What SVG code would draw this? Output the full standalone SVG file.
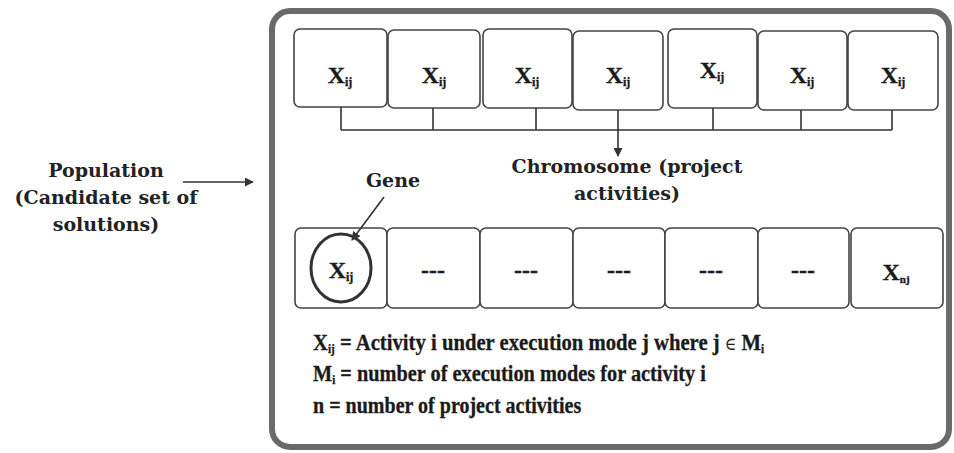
<svg xmlns="http://www.w3.org/2000/svg" width="954" height="453" viewBox="0 0 954 453">
<style>
.bg{fill:#fff}
.frame{fill:none;stroke:#6a6a6a;stroke-width:6}
.box{fill:#fff;stroke:#444;stroke-width:1.6}
.ln{fill:none;stroke:#333;stroke-width:1.6}
.x{font-family:"Liberation Serif","Times New Roman",serif;font-weight:bold;font-size:24px;fill:#1a1a1a;stroke:#1a1a1a;stroke-width:0.3;text-anchor:middle}
.lbl{font-family:"DejaVu Serif",serif;font-weight:bold;font-size:19px;fill:#222;text-anchor:middle}
.leg{font-family:"Liberation Serif","Times New Roman",serif;font-weight:bold;font-size:24px;fill:#1a1a1a;stroke:#1a1a1a;stroke-width:0.3}
</style>
<defs>
<marker id="ah" viewBox="0 0 10 10" refX="9" refY="5" markerWidth="9" markerHeight="9" markerUnits="userSpaceOnUse" orient="auto">
<path d="M0,0 L10,5 L0,10 Z" fill="#333"/>
</marker>
</defs>
<rect class="bg" x="0" y="0" width="954" height="453"/>
<rect id="frame" class="frame" x="272" y="11" width="677" height="436" rx="18"/>

<g id="population">
<text class="lbl" x="106" y="177">Population</text>
<text class="lbl" x="106" y="204">(Candidate set of</text>
<text class="lbl" x="106" y="231">solutions)</text>
</g>

<g id="chromosome-row">
<g id="c1"><rect class="box" x="294" y="29" width="93" height="78" rx="6"/><text class="x" x="340" y="83">X<tspan font-size="12" dy="3">ij</tspan></text></g>
<g id="c2"><rect class="box" x="388" y="30" width="92" height="78" rx="6"/><text class="x" x="434" y="83">X<tspan font-size="12" dy="3">ij</tspan></text></g>
<g id="c3"><rect class="box" x="483" y="29" width="89" height="79" rx="6"/><text class="x" x="527" y="83">X<tspan font-size="12" dy="3">ij</tspan></text></g>
<g id="c4"><rect class="box" x="573" y="31" width="90" height="79" rx="6"/><text class="x" x="618" y="83">X<tspan font-size="12" dy="3">ij</tspan></text></g>
<g id="c5"><rect class="box" x="668" y="29" width="89" height="79" rx="6"/><text class="x" x="712" y="78">X<tspan font-size="12" dy="3">ij</tspan></text></g>
<g id="c6"><rect class="box" x="758" y="31" width="89" height="79" rx="6"/><text class="x" x="802" y="83">X<tspan font-size="12" dy="3">ij</tspan></text></g>
<g id="c7"><rect class="box" x="848" y="31" width="90" height="79" rx="6"/><text class="x" x="893" y="83">X<tspan font-size="12" dy="3">ij</tspan></text></g>
</g>

<g id="chromosome-label">
<text class="lbl" x="627" y="173">Chromosome (project</text>
<text class="lbl" x="627" y="200">activities)</text>
</g>

<g id="gene-label">
<text class="lbl" x="393" y="187">Gene</text>
</g>

<g id="gene-row">
<g id="g1"><rect class="box" x="295" y="228" width="92" height="80" rx="6"/><ellipse cx="341" cy="268" rx="30" ry="34" fill="none" stroke="#333" stroke-width="3"/><text class="x" x="341" y="278">X<tspan font-size="12" dy="3">ij</tspan></text></g>
<g id="g2"><rect class="box" x="387" y="228" width="93" height="80" rx="6"/><text class="x" x="433" y="278">---</text></g>
<g id="g3"><rect class="box" x="480" y="228" width="93" height="80" rx="6"/><text class="x" x="526" y="278">---</text></g>
<g id="g4"><rect class="box" x="573" y="228" width="92" height="80" rx="6"/><text class="x" x="619" y="278">---</text></g>
<g id="g5"><rect class="box" x="665" y="228" width="93" height="80" rx="6"/><text class="x" x="711" y="278">---</text></g>
<g id="g6"><rect class="box" x="758" y="228" width="91" height="80" rx="6"/><text class="x" x="803" y="278">---</text></g>
<g id="g7"><rect class="box" x="851" y="228" width="92" height="80" rx="6"/><text class="x" x="896" y="280" font-size="20">X<tspan font-size="11" dy="3">nj</tspan></text></g>
</g>

<g id="connectors">
<path class="ln" d="M341,107 V130 M433,108 V130 M536,108 V130 M713,108 V130 M801,110 V130 M892,110 V130 M341,130 H892"/>
<line class="ln" x1="618" y1="110" x2="618" y2="156" marker-end="url(#ah)"/>
<line class="ln" x1="183" y1="182" x2="253" y2="182" marker-end="url(#ah)"/>
<line class="ln" x1="384" y1="197" x2="352" y2="240" marker-end="url(#ah)"/>
</g>

<g id="legend">
<text class="leg" transform="translate(313,350) scale(0.862,1)">X<tspan font-size="13" dy="3">ij</tspan><tspan dy="-3"> = Activity i under execution mode j where j </tspan><tspan font-family="DejaVu Serif, serif" font-weight="normal" font-size="18" stroke-width="0">∈</tspan><tspan> M</tspan><tspan font-size="13" dy="3">i</tspan></text>
<text class="leg" transform="translate(313,381) scale(0.847,1)">M<tspan font-size="13" dy="3">i</tspan><tspan dy="-3"> = number of execution modes for activity i</tspan></text>
<text class="leg" transform="translate(313,413) scale(0.835,1)">n = number of project activities</text>
</g>
</svg>
